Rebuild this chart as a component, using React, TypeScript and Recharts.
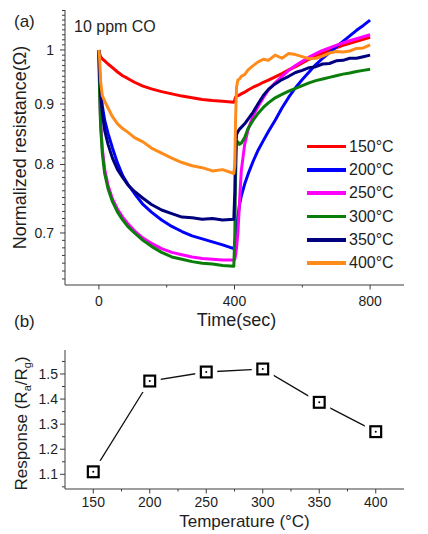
import React from "react";
import { LineChart, Line, XAxis, YAxis } from "recharts";

const FONT = '"Liberation Sans", Arial, Helvetica, sans-serif';
const AXIS = "#3c3c3c";
const INK = "#1e1e1e";

// ---- (a) normalized resistance vs time, 10 ppm CO ----
const TIME = [
  0, 2, 5, 10, 17, 27, 40, 55, 70, 85, 105, 130, 155, 185, 215, 245, 275, 305,
  335, 365, 398, 401, 403, 406, 410, 415, 420, 430, 440, 455, 470, 485, 500,
  520, 540, 560, 580, 600, 620, 640, 660, 680, 700, 720, 740, 760, 780, 800,
];

const C150 = [
  1.0, 0.993, 0.987, 0.983, 0.979, 0.973, 0.966, 0.958, 0.951, 0.946, 0.939,
  0.932, 0.927, 0.922, 0.918, 0.914, 0.911, 0.908, 0.906, 0.905, 0.903, 0.908,
  0.912, 0.914, 0.915, 0.916, 0.918, 0.921, 0.925, 0.93, 0.934, 0.939, 0.943,
  0.949, 0.955, 0.962, 0.968, 0.975, 0.982, 0.988, 0.994, 0.999, 1.004, 1.009,
  1.013, 1.017, 1.021, 1.025,
];
const C200 = [
  1.0, 0.96, 0.93, 0.897, 0.872, 0.85, 0.826, 0.802, 0.783, 0.77, 0.756, 0.74,
  0.729, 0.718, 0.709, 0.702, 0.696, 0.692, 0.688, 0.684, 0.679, 0.685, 0.692,
  0.703, 0.722, 0.74, 0.752, 0.77, 0.785, 0.805, 0.823, 0.838, 0.853, 0.872,
  0.893, 0.912, 0.929, 0.944, 0.958, 0.972, 0.984, 0.995, 1.006, 1.017, 1.028,
  1.039, 1.049, 1.06,
];
const C250 = [
  1.0, 0.93, 0.87, 0.826, 0.792, 0.768, 0.748, 0.733, 0.722, 0.713, 0.703,
  0.693, 0.686, 0.679, 0.674, 0.671, 0.668, 0.666, 0.665, 0.664, 0.664, 0.665,
  0.67, 0.68, 0.7, 0.745, 0.79, 0.832, 0.856, 0.88, 0.896, 0.911, 0.925, 0.938,
  0.95, 0.961, 0.97, 0.978, 0.986, 0.993, 0.999, 1.004, 1.009, 1.014, 1.018,
  1.022, 1.026, 1.03,
];
const C300 = [
  1.0, 0.92, 0.862, 0.818, 0.786, 0.763, 0.744, 0.729, 0.718, 0.709, 0.7, 0.69,
  0.682, 0.674, 0.668, 0.665, 0.662, 0.66, 0.659, 0.657, 0.656, 0.7, 0.78, 0.83,
  0.836, 0.832, 0.834, 0.843, 0.858, 0.872, 0.884, 0.894, 0.902, 0.911, 0.917,
  0.923, 0.928, 0.933, 0.938, 0.942, 0.945, 0.948, 0.951, 0.954, 0.956, 0.959,
  0.961, 0.963,
];
const C350 = [
  1.0, 0.95, 0.92, 0.885, 0.855, 0.832, 0.81, 0.792, 0.78, 0.769, 0.759, 0.749,
  0.74, 0.732, 0.727, 0.722, 0.721, 0.719, 0.72, 0.718, 0.719, 0.76, 0.82,
  0.848, 0.853, 0.857, 0.86, 0.866, 0.874, 0.886, 0.901, 0.915, 0.926, 0.936,
  0.944, 0.95, 0.957, 0.961, 0.966, 0.968, 0.973, 0.974, 0.979, 0.98, 0.984,
  0.984, 0.987, 0.99,
];
const C400 = [
  1.0, 0.985, 0.94, 0.915, 0.905, 0.893, 0.878, 0.866, 0.858, 0.852, 0.843,
  0.836, 0.826, 0.818, 0.81, 0.803, 0.798, 0.795, 0.79, 0.792, 0.786, 0.8, 0.87,
  0.93, 0.943, 0.945, 0.95, 0.953, 0.962, 0.97, 0.977, 0.982, 0.98, 0.99, 0.984,
  0.993, 0.991, 0.987, 0.983, 0.984, 0.988, 0.994, 0.997, 0.996, 0.998, 1.003,
  1.004, 1.01,
];

const SERIES = [
  { key: "c150", label: "150°C", color: "#ff0000", values: C150 },
  { key: "c200", label: "200°C", color: "#0000ff", values: C200 },
  { key: "c250", label: "250°C", color: "#ff00ff", values: C250 },
  { key: "c300", label: "300°C", color: "#0b7d0b", values: C300 },
  { key: "c350", label: "350°C", color: "#00007f", values: C350 },
  { key: "c400", label: "400°C", color: "#ff8c1a", values: C400 },
];

const A_X_TICKS = [0, 200, 400, 600, 800];
const A_X_LABELED = [0, 400, 800];
const A_Y_LABELED = [0.7, 0.8, 0.9, 1];
// minor ticks every 0.01 on the log axis
const A_Y_TICKS = Array.from({ length: 45 }, (_, i) => Math.round((0.64 + i * 0.01) * 100) / 100);

// ---- (b) response vs temperature ----
const TEMPS = [150, 200, 250, 300, 350, 400];
const RESPONSE = [1.11, 1.472, 1.508, 1.52, 1.387, 1.27];

const B_X_TICKS = [150, 175, 200, 225, 250, 275, 300, 325, 350, 375, 400];
const B_X_LABELED = [150, 200, 250, 300, 350, 400];
const B_Y_TICKS = [1.05, 1.1, 1.15, 1.2, 1.25, 1.3, 1.35, 1.4, 1.45, 1.5, 1.55];
const B_Y_LABELED = [1.1, 1.2, 1.3, 1.4, 1.5];

const isIn = (list: number[], v: number) => list.some((m) => Math.abs(m - v) < 1e-9);

function LeftTick(props: any) {
  const { x, y, payload, labeled, gap, fmt } = props;
  const v = payload.value;
  const major = isIn(labeled, v);
  const len = major ? 5 : 3;
  return (
    <g>
      <line x1={x} x2={x - len} y1={y} y2={y} stroke={AXIS} strokeWidth={1} />
      {major && (
        <text x={x - gap} y={y} dy={5} textAnchor="end" fontSize={14} fill={INK} fontFamily={FONT}>
          {fmt(v)}
        </text>
      )}
    </g>
  );
}

function BottomTick(props: any) {
  const { x, y, payload, labeled, base } = props;
  const v = payload.value;
  const major = isIn(labeled, v);
  const len = major ? 4.5 : 2.5;
  return (
    <g>
      <line x1={x} x2={x} y1={y} y2={y + len} stroke={AXIS} strokeWidth={1} />
      {major && (
        <text x={x} y={y + base} textAnchor="middle" fontSize={14} fill={INK} fontFamily={FONT}>
          {v}
        </text>
      )}
    </g>
  );
}

function XTitle(props: any) {
  const { viewBox, txt, base, dx = 0, size } = props;
  return (
    <text
      x={viewBox.x + viewBox.width / 2 + dx}
      y={viewBox.y + base}
      textAnchor="middle"
      fontSize={size}
      fill={INK}
      fontFamily={FONT}
    >
      {txt}
    </text>
  );
}

function YTitle(props: any) {
  const { viewBox, txt, baseX, dy = 0, size } = props;
  const x = viewBox.x + baseX;
  const y = viewBox.y + viewBox.height / 2 + dy;
  return (
    <text
      x={x}
      y={y}
      transform={`rotate(-90 ${x} ${y})`}
      textAnchor="middle"
      fontSize={size}
      fill={INK}
      fontFamily={FONT}
    >
      {txt}
    </text>
  );
}

const renderSquare = (p: any) => {
  const { cx, cy, index } = p;
  return (
    <g key={`sq-${index}`}>
      <rect x={cx - 11} y={cy - 11} width={22} height={22} fill="#fff" />
      <rect x={cx - 5.4} y={cy - 5.4} width={10.8} height={10.8} fill="#fff" stroke="#000" strokeWidth={2.2} />
      <circle cx={cx} cy={cy} r={1} fill="#000" />
    </g>
  );
};

export default function App() {
  const dataA = TIME.map((t, i) => {
    const row: Record<string, number> = { t };
    SERIES.forEach((s) => (row[s.key] = s.values[i]));
    return row;
  });
  const dataB = TEMPS.map((temp, i) => ({ temp, resp: RESPONSE[i] }));

  const frame = { stroke: AXIS, strokeWidth: 1 };

  return (
    <div style={{ position: "absolute", left: 0, top: 0, width: 428, height: 534, background: "#fff", fontFamily: FONT }}>
      {/* (a) */}
      <div style={{ position: "absolute", left: 0, top: 0 }}>
        <LineChart width={428} height={340} data={dataA} margin={{ top: 10, right: 24, bottom: 0, left: 5 }}>
          <XAxis
            dataKey="t"
            type="number"
            domain={[-100, 900]}
            ticks={A_X_TICKS}
            interval={0}
            tickSize={0}
            tickMargin={0}
            tickLine={false}
            axisLine={frame}
            height={55}
            tick={<BottomTick labeled={A_X_LABELED} base={21} />}
            label={<XTitle txt="Time(sec)" base={41} dx={2} size={18} />}
          />
          <YAxis
            type="number"
            scale="log"
            domain={[0.6325, 1.081]}
            allowDataOverflow
            ticks={A_Y_TICKS}
            interval={0}
            tickSize={0}
            tickMargin={0}
            tickLine={false}
            axisLine={frame}
            width={60}
            tick={<LeftTick labeled={A_Y_LABELED} gap={11} fmt={(v: number) => (v === 1 ? "1" : v.toFixed(1))} />}
            label={<YTitle txt="Normalized resistance(Ω)" baseX={21} size={18} />}
          />
          <XAxis xAxisId="top" orientation="top" type="number" domain={[0, 1]} height={0} tick={false} tickLine={false} axisLine={frame} />
          <YAxis yAxisId="right" orientation="right" type="number" domain={[0, 1]} width={0} tick={false} tickLine={false} axisLine={frame} />
          {SERIES.map((s) => (
            <Line
              key={s.key}
              type="linear"
              dataKey={s.key}
              stroke={s.color}
              strokeWidth={3}
              strokeLinejoin="round"
              dot={false}
              isAnimationActive={false}
            />
          ))}
        </LineChart>
      </div>

      {/* legend for (a) */}
      <div style={{ position: "absolute", left: 307, top: 135, fontSize: 16, color: INK }}>
        {SERIES.map((s) => (
          <div key={s.key} style={{ display: "flex", alignItems: "center", height: 23.3 }}>
            <span style={{ display: "inline-block", width: 39, height: 3.5, background: s.color }} />
            <span style={{ marginLeft: 3, lineHeight: "16px" }}>{s.label}</span>
          </div>
        ))}
      </div>

      {/* (b) */}
      <div style={{ position: "absolute", left: 0, top: 330 }}>
        <LineChart width={428} height={204} data={dataB} margin={{ top: 20, right: 24, bottom: 0, left: 5 }}>
          <XAxis
            dataKey="temp"
            type="number"
            domain={[125, 425]}
            ticks={B_X_TICKS}
            interval={0}
            tickSize={0}
            tickMargin={0}
            tickLine={false}
            axisLine={frame}
            height={45}
            tick={<BottomTick labeled={B_X_LABELED} base={18} />}
            label={<XTitle txt="Temperature (°C)" base={37.5} dx={10} size={17} />}
          />
          <YAxis
            type="number"
            domain={[1.0414, 1.5957]}
            allowDataOverflow
            ticks={B_Y_TICKS}
            interval={0}
            tickSize={0}
            tickMargin={0}
            tickLine={false}
            axisLine={frame}
            width={60}
            tick={<LeftTick labeled={B_Y_LABELED} gap={7} fmt={(v: number) => v.toFixed(1)} />}
            label={
              <YTitle
                baseX={22}
                dy={4}
                size={17}
                txt={
                  <>
                    Response (R<tspan fontSize={11} dy={4}>a</tspan>
                    <tspan dy={-4}>/R</tspan>
                    <tspan fontSize={11} dy={4}>g</tspan>
                    <tspan dy={-4}>)</tspan>
                  </>
                }
              />
            }
          />
          <XAxis xAxisId="top" orientation="top" type="number" domain={[0, 1]} height={0} tick={false} tickLine={false} axisLine={frame} />
          <YAxis yAxisId="right" orientation="right" type="number" domain={[0, 1]} width={0} tick={false} tickLine={false} axisLine={frame} />
          <Line
            type="linear"
            dataKey="resp"
            stroke="#111"
            strokeWidth={1.3}
            dot={renderSquare}
            isAnimationActive={false}
          />
        </LineChart>
      </div>

      {/* panel labels */}
      <svg width={428} height={534} style={{ position: "absolute", left: 0, top: 0, pointerEvents: "none" }}>
        <text x={14} y={27} fontSize={17} fill={INK} fontFamily={FONT}>(a)</text>
        <text x={14} y={326.5} fontSize={17} fill={INK} fontFamily={FONT}>(b)</text>
        <text x={74} y={32} fontSize={16} fill={INK} fontFamily={FONT}>10 ppm CO</text>
      </svg>
    </div>
  );
}
